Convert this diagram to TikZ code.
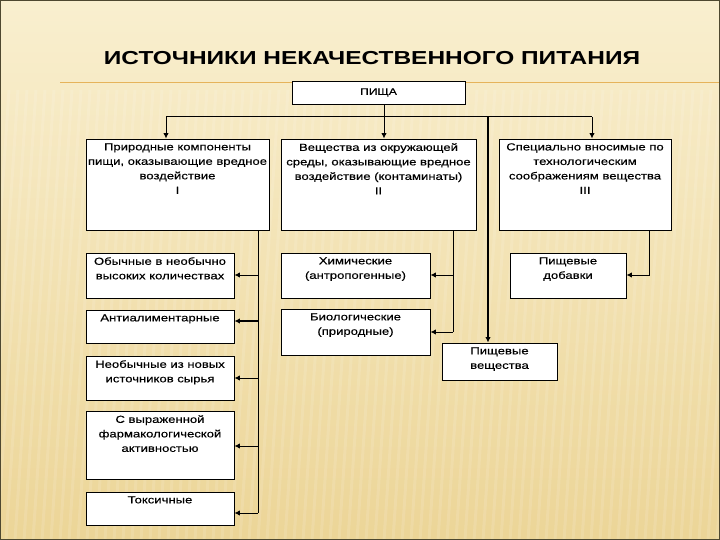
\documentclass[tikz,border=0pt]{standalone}
\usepackage{fontspec}
\setmainfont{Liberation Sans}[FakeStretch=1.27]
\newfontfamily\boxfont{Liberation Sans}[FakeStretch=1.27,FakeBold=0.35]
\newfontfamily\titlefont{Liberation Sans}[FakeStretch=1.3]
\usetikzlibrary{arrows.meta}
\definecolor{bgtop}{HTML}{F9EFCF}
\definecolor{bgbot}{HTML}{ECD597}
\definecolor{framec}{HTML}{4E4830}
\definecolor{rulec}{HTML}{E6B35A}
\begin{document}
\begin{tikzpicture}[x=1pt,y=-1pt,
  box/.style={draw=black,fill=white,line width=0.9pt,inner sep=0pt},
  txt/.style={anchor=north,align=center,inner sep=0pt,font=\boxfont\fontsize{10.3}{14.5}\selectfont},
  con/.style={line width=1pt},
  thk/.style={line width=2pt},
  arr/.style={-{Latex[length=5.5pt,width=5.5pt]}},
]
% background
\shade[top color=bgtop,bottom color=bgbot] (0,0) rectangle (720,540);
\useasboundingbox (0,0) rectangle (720,540);
\foreach \i in {0,9,...,760} \draw[white,opacity=0.12,line width=3pt] (\i,90) -- (\i-30,540);
\draw[rulec,line width=1pt] (60,83) -- (720,83);
\draw[framec,line width=2.5pt] (0,0) rectangle (720,540);

% title
\node[font=\titlefont\bfseries\fontsize{18.8}{20}\selectfont,inner sep=0pt] (title) at (372,58) {ИСТОЧНИКИ НЕКАЧЕСТВЕННОГО ПИТАНИЯ};

% boxes
\node[box,minimum width=173pt,minimum height=23pt,font=\boxfont\fontsize{9.5}{11}\selectfont] (food) at (378.5,92.5) {ПИЩА};
\node[box,minimum width=183pt,minimum height=91pt] (b1) at (177.5,184.5) {};
\node[box,minimum width=195pt,minimum height=91pt] (b2) at (378.5,184.5) {};
\node[box,minimum width=172pt,minimum height=91pt] (b3) at (585,184.5) {};
\node[box,minimum width=148pt,minimum height=45pt] (a1) at (160,275.5) {};
\node[box,minimum width=148pt,minimum height=33pt] (a2) at (160,326.5) {};
\node[box,minimum width=148pt,minimum height=44pt] (a3) at (160,378) {};
\node[box,minimum width=148pt,minimum height=68pt] (a4) at (160,445) {};
\node[box,minimum width=148pt,minimum height=33pt] (a5) at (160,508.5) {};
\node[box,minimum width=149pt,minimum height=45pt] (c1) at (355.5,275.5) {};
\node[box,minimum width=149pt,minimum height=46pt] (c2) at (355.5,332) {};
\node[box,minimum width=116pt,minimum height=45pt] (d1) at (568,275.5) {};
\node[box,minimum width=115pt,minimum height=37pt] (e1) at (499.5,361.5) {};

% texts
\node[txt] (b1t) at ([yshift=-4.5pt]b1.north) {Природные компоненты\\пищи, оказывающие вредное\\воздействие\\I};
\node[txt] (b2t) at ([yshift=-4.5pt]b2.north) {Вещества из окружающей\\среды, оказывающие вредное\\воздействие (контаминаты)\\II};
\node[txt] (b3t) at ([yshift=-4.5pt]b3.north) {Специально вносимые по\\технологическим\\соображениям вещества\\III};
\node[txt] (a1t) at ([yshift=-4.5pt]a1.north) {Обычные в необычно\\высоких количествах};
\node[txt] (a2t) at ([yshift=-4.5pt]a2.north) {Антиалиментарные};
\node[txt] (a3t) at ([yshift=-4.5pt]a3.north) {Необычные из новых\\источников сырья};
\node[txt] (a4t) at ([yshift=-4.5pt]a4.north) {С выраженной\\фармакологической\\активностью};
\node[txt] (a5t) at ([yshift=-4.5pt]a5.north) {Токсичные};
\node[txt] (c1t) at ([yshift=-4.5pt]c1.north) {Химические\\(антропогенные)};
\node[txt] (c2t) at ([yshift=-4.5pt]c2.north) {Биологические\\(природные)};
\node[txt] (d1t) at ([yshift=-4.5pt]d1.north) {Пищевые\\добавки};
\node[txt] (e1t) at ([yshift=-4.5pt]e1.north) {Пищевые\\вещества};

% connectors top
\coordinate (jc) at (384,117);
\coordinate (jl) at (166,117);
\coordinate (jr) at (592,117);
\coordinate (jm) at (488,117);
\draw[con] (food.south -| jc) -- (jc);
\draw[con] (jl) -- (jr);
\draw[con,arr] (jl) -- (jl |- b1.north);
\draw[con,arr] (jc) -- (jc |- b2.north);
\draw[con,arr] (jr) -- (jr |- b3.north);
\draw[thk,arr] (jm) -- (jm |- e1.north);

% left trunk
\coordinate (lt) at (258,230);
\coordinate (lb) at (258,513);
\draw[con] (b1.south -| lt) -- (lb);
\draw[con,arr] (258,275) -- (a1.east |- 0,275);
\draw[thk,arr] (258,321) -- (a2.east |- 0,321);
\draw[con,arr] (258,378) -- (a3.east |- 0,378);
\draw[con,arr] (258,446) -- (a4.east |- 0,446);
\draw[con,arr] (lb) -- (a5.east |- lb);

% middle trunk
\coordinate (mt) at (453,230);
\coordinate (mb) at (453,332);
\draw[con] (b2.south -| mt) -- (mb);
\draw[con,arr] (453,275) -- (c1.east |- 0,275);
\draw[con,arr] (mb) -- (c2.east |- mb);

% right branch
\coordinate (rt) at (649,230);
\coordinate (rb) at (649,275);
\draw[con,arr] (b3.south -| rt) -- (rb) -- (d1.east |- rb);
\end{tikzpicture}
\end{document}
